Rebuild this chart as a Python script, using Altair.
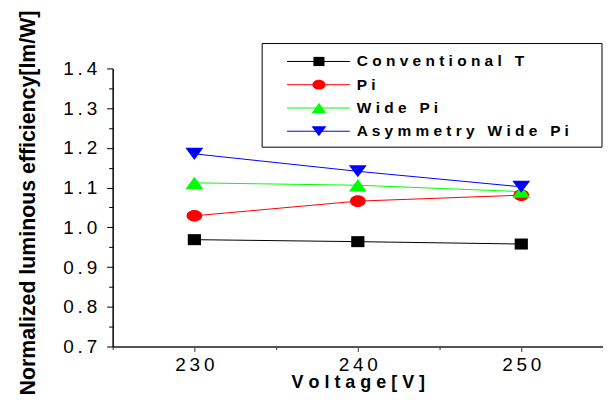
import altair as alt
import pandas as pd

voltages = [230, 240, 250]
series_names = ["Conventional T", "Pi", "Wide Pi", "Asymmetry Wide Pi"]
conventional_t = [0.969, 0.964, 0.958]
pi = [1.029, 1.066, 1.081]
wide_pi = [1.112, 1.106, 1.090]
asym_wide_pi = [1.185, 1.141, 1.102]
colors = ["#000000", "#ff0000", "#00ff00", "#0000ff"]
# square, ellipse, triangle-up, triangle-down (slightly wider than tall, as in the original)
shapes = [
    "M-1.02,-0.85L1.02,-0.85L1.02,0.85L-1.02,0.85Z",
    "M-1.21,0A1.21,0.9,0,1,0,1.21,0A1.21,0.9,0,1,0,-1.21,0Z",
    "M0,-0.95L1.36,0.95L-1.36,0.95Z",
    "M0,0.93L1.38,-0.93L-1.38,-0.93Z",
]
x_major_ticks = [230, 240, 250]
x_minor_ticks = [225, 235, 245, 255]
y_major_ticks = [0.7, 0.8, 0.9, 1.0, 1.1, 1.2, 1.3, 1.4]
y_minor_ticks = [0.75, 0.85, 0.95, 1.05, 1.15, 1.25, 1.35]

FONT = "Liberation Sans"
NB = "\u00a0"


def spaced(s):
    return " ".join(NB if c == " " else c for c in s)


rows = []
for name, vals in zip(series_names, [conventional_t, pi, wide_pi, asym_wide_pi]):
    for v, e in zip(voltages, vals):
        rows.append({"series": name, "voltage": v, "eff": e})
df = pd.DataFrame(rows)

legend_df = pd.DataFrame({
    "series": series_names,
    "row": list(range(len(series_names))),
    "label": [spaced(n) for n in series_names],
})

color_enc = alt.Color("series:N", scale=alt.Scale(domain=series_names, range=colors), legend=None)
shape_enc = alt.Shape("series:N", scale=alt.Scale(domain=series_names, range=shapes), legend=None)

x_scale = alt.Scale(domain=[225, 255], nice=False, zero=False)
y_scale = alt.Scale(domain=[0.7, 1.4], nice=False, zero=False)

x_enc = alt.X(
    "voltage:Q", scale=x_scale,
    axis=alt.Axis(
        values=x_major_ticks, orient="bottom",
        title=spaced("Voltage[V]"),
        titleFont=FONT, titleFontSize=18, titleFontWeight="bold", titleColor="#000",
        titleY=41, titleBaseline="alphabetic",
        labelExpr="join(split(format(datum.value, 'd'), ''), '\u2009')",
        labelFont=FONT, labelFontSize=19, labelColor="#000", labelPadding=4,
        labelOverlap=False, labelFlush=False,
        tickSize=5, tickColor="#333", domainColor="#555", domainWidth=2, grid=False,
    ),
)
y_enc = alt.Y(
    "eff:Q", scale=y_scale,
    axis=alt.Axis(
        values=y_major_ticks, orient="left",
        title="Normalized luminous efficiency[lm/W]",
        titleFont=FONT, titleFontSize=21.4, titleFontWeight="bold", titleColor="#000",
        titleX=-78, titleY=134.5, titleBaseline="alphabetic", titleAngle=-90,
        labelExpr="join(split(format(datum.value, '.1f'), ''), '\u2009')",
        labelFont=FONT, labelFontSize=19, labelColor="#000", labelPadding=10,
        labelOverlap=False, labelFlush=False,
        tickSize=6, tickColor="#000", domainColor="#000", domainWidth=1.5, grid=False,
    ),
)
x_minor = alt.X(
    "voltage:Q", scale=x_scale,
    axis=alt.Axis(values=x_minor_ticks, orient="bottom", labels=False, domain=False,
                  title=None, tickSize=3, tickColor="#333", grid=False),
)
y_minor = alt.Y(
    "eff:Q", scale=y_scale,
    axis=alt.Axis(values=y_minor_ticks, orient="left", labels=False, domain=False,
                  title=None, tickSize=4, tickColor="#000", grid=False),
)

lines = alt.Chart(df).mark_line(strokeWidth=1).encode(
    x=x_enc, y=y_enc, color=color_enc, detail="series:N"
)
points = alt.Chart(df).mark_point(filled=True, size=169, opacity=1, strokeWidth=0).encode(
    x=x_minor, y=y_minor, color=color_enc, shape=shape_enc
)

box = alt.Chart(pd.DataFrame({"series": ["box"]})).mark_rect(
    fill="white", stroke="#000", strokeWidth=1
).encode(
    x=alt.value(150), x2=alt.value(491), y=alt.value(-25), y2=alt.value(79)
)

layers = [lines, points, box]
row_pos = [-7, 16.3, 39.7, 63]
for i, yr in enumerate(row_pos):
    sub = alt.Chart(legend_df).transform_filter(alt.datum.row == i)
    layers.append(sub.mark_rule(strokeWidth=1).encode(
        x=alt.value(175), x2=alt.value(238), y=alt.value(yr), color=color_enc
    ))
    layers.append(sub.mark_point(filled=True, size=118, opacity=1, strokeWidth=0).encode(
        x=alt.value(207), y=alt.value(yr), color=color_enc, shape=shape_enc
    ))
    layers.append(sub.mark_text(
        align="left", baseline="middle", font=FONT, fontSize=15.5, fontWeight="bold", color="#000"
    ).encode(x=alt.value(245), y=alt.value(yr), text="label:N"))

chart = alt.layer(*layers).resolve_axis(x="independent", y="independent").properties(
    width=492, height=279,
    autosize=alt.AutoSizeParams(type="none"),
    padding={"left": 105, "top": 60, "right": 0, "bottom": 50},
    background="white",
).configure_view(stroke=None)

chart.save("out.html", embed_options={"renderer": "svg", "actions": False})
